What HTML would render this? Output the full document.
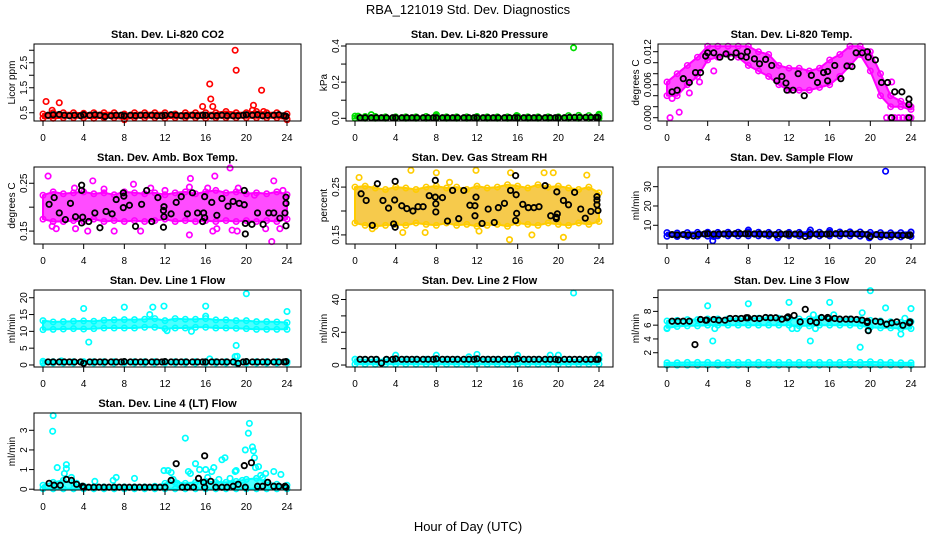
<!DOCTYPE html>
<html><head><meta charset="utf-8"><style>
html,body{margin:0;padding:0;background:#fff;}
svg{display:block;font-family:"Liberation Sans",Arial,sans-serif;}
</style></head><body>
<svg id="chart" width="936" height="540" viewBox="0 0 936 540">
<text x="468" y="14" text-anchor="middle" font-size="13">RBA_121019  Std. Dev. Diagnostics</text>
<text x="468" y="531" text-anchor="middle" font-size="13">Hour of Day (UTC)</text>
</svg>
<script>
// ---------- data ----------
const bandHours=[0,1,2,3,4,5,6,7,8,9,10,11,12,13,14,15,16,17,18,19,20,21,22,23,24];
const blackHours=[0.5,1.0,1.6,2.1,2.6,3.1,3.7,4.0,4.6,5.1,5.6,6.1,6.7,7.2,7.7,8.0,8.6,9.1,9.6,10.1,10.7,11.2,11.7,12.0,12.6,13.1,13.6,14.1,14.7,15.2,15.7,16.0,16.6,17.1,17.6,18.1,18.7,19.2,19.7,20.0,20.6,21.1,21.6,22.1,22.7,23.2,23.7,23.9];

// CO2
const co2Lo=[0.28,0.28,0.3,0.3,0.3,0.28,0.3,0.3,0.25,0.3,0.3,0.3,0.28,0.3,0.3,0.3,0.28,0.3,0.3,0.3,0.3,0.3,0.3,0.3,0.25];
const co2Hi=[0.45,0.5,0.5,0.5,0.48,0.5,0.5,0.5,0.45,0.5,0.5,0.5,0.5,0.45,0.5,0.5,0.5,0.5,0.55,0.5,0.5,0.55,0.5,0.5,0.45];
const co2OutH=[0.3,0.9,1.6,8,15.7,16.4,16.5,16.7,18.9,19.0,20.6,20.7,21.5,21.7,24];
const co2OutV=[0.95,0.6,0.9,0.22,0.75,1.65,1.05,0.75,3.0,2.2,0.6,0.8,1.4,0.55,0.22];
const co2Blk=[0.4,0.42,0.43,0.4,0.38,0.4,0.38,0.42,0.4,0.42,0.4,0.35,0.38,0.4,0.4,0.38,0.4,0.38,0.4,0.4,0.4,0.38,0.38,0.4,0.42,0.4,0.38,0.38,0.4,0.38,0.4,0.4,0.38,0.38,0.4,0.38,0.38,0.38,0.4,0.42,0.4,0.42,0.38,0.4,0.4,0.42,0.38,0.36];

// Pressure
const presLo=[0,0,0,0,0,0,0,0,0,0,0,0,0,0,0,0,0,0,0,0,0,0,0,0,0];
const presHi=[0.012,0.01,0.01,0.008,0.008,0.008,0.008,0.01,0.012,0.008,0.008,0.008,0.01,0.008,0.008,0.008,0.012,0.008,0.008,0.008,0.008,0.015,0.016,0.015,0.015];
const presOutH=[0.3,1.6,8,15.9,21.5,24];
const presOutV=[0.012,0.02,0.02,0.015,0.39,0.022];
const presBlk=[0.003,0.003,0.003,0.003,0.003,0.003,0.003,0.003,0.003,0.003,0.003,0.003,0.003,0.003,0.003,0.003,0.003,0.003,0.003,0.003,0.003,0.003,0.003,0.003,0.003,0.003,0.003,0.003,0.003,0.003,0.003,0.003,0.003,0.003,0.003,0.003,0.003,0.003,0.003,0.003,0.003,0.005,0.005,0.005,0.005,0.005,0.005,0.005];

// Li-820 temperature
const tempLo=[0.004,0.004,0.006,0.0075,0.0105,0.011,0.0115,0.011,0.0095,0.0085,0.0075,0.006,0.005,0.005,0.005,0.0055,0.006,0.0075,0.0095,0.0115,0.0085,0.004,0.002,0.002,0.0015];
const tempHi=[0.0065,0.008,0.0095,0.011,0.013,0.013,0.013,0.013,0.013,0.012,0.0115,0.0095,0.009,0.009,0.0085,0.009,0.0105,0.0115,0.013,0.013,0.012,0.008,0.004,0.003,0.002];
const tempOutH=[0.3,1.2,0.5,2.2,4.6,3.2,21.6,22.0,22.4,22.8,23.2,23.6,24.0,22.1,23.8];
const tempOutV=[0,0.001,0.0035,0.0045,0.0085,0.0065,0,0,0,0,0,0,0,0.0065,0.002];
const tempBlkH=[0.5,1.0,1.6,2.2,2.8,3.3,3.8,4.0,4.6,5.2,5.8,6.3,6.8,7.3,7.8,7.9,8.6,9.1,9.7,10.3,10.8,11.3,11.7,11.8,12.4,12.9,13.5,14.2,14.8,15.4,15.8,15.8,16.5,17.1,17.7,18.2,18.6,19.2,19.7,19.8,20.5,21.1,21.7,22.1,22.4,23.1,23.8,23.8,23.8];
const tempBlkV=[0.0047,0.005,0.0071,0.0064,0.0082,0.0082,0.0112,0.0118,0.0118,0.011,0.0116,0.011,0.0118,0.0112,0.011,0.012,0.0107,0.0098,0.0106,0.0095,0.0067,0.0075,0.0063,0.005,0.005,0.008,0.004,0.0077,0.0064,0.0082,0.0084,0.0067,0.0095,0.0071,0.0094,0.0093,0.0118,0.0118,0.012,0.011,0.0105,0.0064,0.0064,0,0.0047,0.0047,0.0034,0.0024,0];

// Ambient box temperature
const ambLo=[0.175,0.17,0.17,0.172,0.17,0.175,0.17,0.172,0.17,0.172,0.17,0.172,0.175,0.17,0.172,0.17,0.172,0.17,0.172,0.17,0.172,0.17,0.172,0.17,0.175];
const ambHi=[0.225,0.232,0.228,0.23,0.232,0.228,0.23,0.226,0.232,0.23,0.228,0.23,0.226,0.23,0.232,0.228,0.232,0.235,0.23,0.232,0.228,0.23,0.228,0.232,0.226];
const ambOutH=[0.5,4.9,8.9,16.9,18.4,22.7,14.5,22.5,14.4,0.9,1.3,3.2,4.4,7,9.6,17.1,18.6,19.1,21.9,23.3,16.7,3.1,6,10.6,12,14.4,16.2,19.2,20.8,23.6];
const ambOutV=[0.265,0.255,0.248,0.265,0.282,0.255,0.26,0.128,0.142,0.16,0.155,0.155,0.15,0.15,0.15,0.155,0.152,0.15,0.155,0.155,0.15,0.24,0.238,0.24,0.235,0.242,0.24,0.24,0.225,0.235];
const ambBlkH=[0.6,1.1,1.6,2.2,2.7,3.2,3.8,3.8,3.9,3.8,4.5,5.1,5.6,6.2,6.8,7.2,7.9,7.95,7.9,8.5,9.1,9.7,10.2,10.7,11.3,11.85,11.9,11.9,11.85,12.6,13.1,13.6,14.2,14.7,15.2,15.8,15.9,15.9,15.7,16.6,17.1,17.6,18.2,18.7,19.3,19.8,19.8,19.9,19.9,20.55,21.1,21.65,22.2,22.7,23.3,23.8,23.9,23.9,23.9];
const ambBlkV=[0.206,0.22,0.188,0.174,0.208,0.18,0.246,0.235,0.179,0.167,0.17,0.188,0.157,0.191,0.186,0.216,0.23,0.223,0.199,0.204,0.16,0.206,0.235,0.17,0.22,0.193,0.201,0.18,0.158,0.186,0.21,0.222,0.186,0.23,0.188,0.188,0.222,0.178,0.17,0.21,0.183,0.218,0.202,0.212,0.208,0.235,0.205,0.166,0.144,0.164,0.188,0.164,0.188,0.188,0.177,0.188,0.221,0.208,0.161];

// Gas stream RH
const rhLo=[0.175,0.17,0.168,0.17,0.172,0.17,0.175,0.172,0.17,0.175,0.17,0.172,0.168,0.17,0.172,0.168,0.175,0.172,0.17,0.175,0.172,0.17,0.175,0.172,0.178];
const rhHi=[0.25,0.252,0.248,0.245,0.25,0.248,0.245,0.25,0.252,0.248,0.25,0.245,0.252,0.248,0.25,0.255,0.252,0.248,0.255,0.25,0.252,0.248,0.245,0.25,0.238];
const rhOutH=[0.4,5.5,6.9,4.7,11.9,15.2,17.4,20.5,19.5,15.3,18.6,22.8,8,9.3,1.7,12.2];
const rhOutV=[0.27,0.285,0.155,0.155,0.285,0.14,0.15,0.145,0.28,0.28,0.28,0.275,0.28,0.26,0.163,0.158];
const rhBlkH=[0.6,1.1,1.7,2.2,2.75,3.3,3.8,3.95,3.95,3.9,4.6,5.1,5.7,6.2,6.7,7.3,7.9,7.9,7.95,7.95,8.6,9.1,9.6,10.2,10.7,11.3,11.8,11.9,11.8,12.5,13.1,13.7,14.1,14.7,15.3,15.8,15.85,15.9,15.8,16.5,17.05,17.6,18.1,18.7,19.25,19.8,19.9,19.8,19.85,20.5,21.0,21.6,22.2,22.65,23.2,23.8,23.8,23.9,23.8];
const rhBlkV=[0.236,0.222,0.17,0.257,0.222,0.206,0.173,0.166,0.262,0.223,0.211,0.205,0.2,0.209,0.209,0.232,0.264,0.229,0.215,0.198,0.228,0.179,0.243,0.184,0.243,0.212,0.211,0.229,0.19,0.174,0.204,0.176,0.207,0.216,0.243,0.274,0.234,0.195,0.18,0.214,0.207,0.207,0.209,0.253,0.19,0.187,0.194,0.184,0.24,0.222,0.213,0.239,0.204,0.185,0.199,0.23,0.213,0.201,0.223];

// Sample flow
const sfLo=[4.3,4.2,4.3,4.4,4.4,4.5,4.5,4.5,4.5,4.5,4.5,4.4,4.5,4.5,4.5,4.5,4.5,4.5,4.5,4.4,4.2,4.0,4.0,4.0,4.2];
const sfHi=[6.2,6.0,6.2,6.3,6.4,6.3,6.4,6.4,6.5,6.4,6.3,6.3,6.3,6.3,6.4,6.4,6.4,6.5,6.6,6.5,6.3,6.2,6.1,6.2,6.4];
const sfOutH=[4.5,8,14.1,16,21.5,24,10.9,19.9,4.6];
const sfOutV=[2,7.5,7.5,7.3,38,6.5,3.5,3.5,4.2];
const sfBlk=[5.2,5.0,5.2,5.0,4.5,5.3,5.5,5.6,5.4,5.4,5.5,5.5,5.6,5.6,5.6,5.6,5.5,5.5,5.4,5.4,5.2,5.4,5.4,5.4,5.4,5.4,4.2,5.4,5.4,5.4,5.4,5.5,5.6,5.6,5.6,5.6,5.5,5.4,5.2,4.2,5.2,5.0,4.8,5.0,4.8,4.8,4.8,5.0];

// Line 1 flow
const l1Lo=[10.5,10.6,10.7,10.8,10.7,10.8,11,11,11,11,11.2,11.2,10.8,11,11,11.2,11.2,11,11,10.9,10.8,10.6,10.6,10.6,10.6];
const l1Hi=[13.2,12.8,12.9,13.0,13.1,13.0,13.3,13.4,13.5,13.5,13.6,13.8,13.2,13.8,13.6,13.6,13.8,13.4,13.4,13.2,13.2,12.9,12.9,12.8,12.6];
const l1BandLo=[0.6,0.6,0.6,0.6,0.6,0.6,0.6,0.6,0.6,0.6,0.6,0.6,0.6,0.6,0.6,0.6,0.6,0.6,0.6,0.6,0.6,0.6,0.6,0.6,0.6];
const l1BandHi=[1.1,1.0,1.0,1.0,1.0,1.0,1.0,1.0,1.0,1.0,1.0,1.0,1.0,1.0,1.0,1.0,1.0,1.0,1.0,1.0,1.0,1.0,1.0,1.0,1.0];
const l1OutH=[4,4.5,8,10.8,11.9,16,20,24,10.5,19,18.9,19.1,16.4,14.6,12.2,16,1.8];
const l1OutV=[16.8,6.8,17.2,17.2,17.5,17.5,21.2,15.9,15,5.8,2.5,2.6,1.8,10,10.2,14.5,1.2];
const l1Blk=[0.9,0.9,0.9,0.9,0.9,0.9,0.9,0.5,0.9,0.9,0.9,0.9,0.9,0.9,0.9,1.0,0.9,0.9,0.9,0.9,0.9,0.9,0.9,1.0,0.9,0.9,0.9,0.9,0.9,0.9,0.9,0.9,0.9,0.9,0.9,0.9,0.9,0.5,0.9,1.0,0.9,0.9,0.9,0.9,0.9,0.9,0.9,1.0];

// Line 2 flow
const l2Lo=[0.5,0.5,0.5,0.5,0.5,0.5,0.5,0.5,0.5,0.5,0.5,0.5,0.5,0.5,0.5,0.5,0.5,0.5,0.5,0.5,0.5,0.5,0.5,0.5,0.5];
const l2Hi=[3.5,3.2,3.2,3.2,3.5,3.5,3.5,3.5,3.5,3.5,3.5,3.5,3.8,3.5,3.5,3.5,3.8,3.5,3.5,3.5,3.5,3.2,3.2,3.2,3.5];
const l2OutH=[21.5,4,8,12,16,19.2,20,24,0,11.2];
const l2OutV=[44,6,6,6.5,6,6,6,6,3.5,5];
const l2Blk=[3.5,3.5,3.5,3.5,1.2,3.5,3.5,3.8,3.5,3.5,3.5,3.5,3.5,3.5,3.5,3.8,3.5,3.5,3.5,3.5,3.5,3.5,3.5,3.8,3.5,3.5,3.5,3.5,3.5,3.5,3.5,3.8,3.5,3.5,3.5,3.5,3.5,3.5,3.5,3.2,3.5,3.5,3.5,3.5,3.5,3.5,3.5,3.5];

// Line 3 flow
const l3Lo=[5.6,5.8,5.9,5.9,6.0,6.0,6.0,6.0,6.0,6.0,6.0,6.0,6.0,5.9,5.9,6.0,6.0,6.0,6.0,5.9,5.7,5.6,5.6,5.5,5.5];
const l3Hi=[6.6,6.7,6.8,6.8,6.9,6.9,6.9,6.9,7.0,7.0,7.0,7.0,6.9,6.9,6.9,7.0,6.9,6.9,6.9,6.8,6.7,6.6,6.5,6.4,6.5];
const l3BandLo=[0.2,0.2,0.2,0.2,0.2,0.2,0.2,0.2,0.2,0.2,0.2,0.2,0.2,0.2,0.2,0.2,0.2,0.2,0.2,0.2,0.2,0.2,0.2,0.2,0.2];
const l3BandHi=[0.55,0.55,0.6,0.6,0.6,0.55,0.6,0.6,0.6,0.6,0.6,0.6,0.6,0.6,0.6,0.6,0.6,0.6,0.7,0.6,0.7,0.6,0.6,0.55,0.55];
const l3OutH=[4,4.5,8,12,16,20,24,21.5,19,19.2,14.1,14.4,12.3,12.8,16.4,23,19.8,4.7,0,14.6,23.4];
const l3OutV=[8.8,3.7,9.1,9.3,9.3,11,8.4,8.5,2.8,7.8,3.7,7.5,5.5,5.5,7.5,4.7,5.3,5.5,5.5,5.5,7];
const l3BlkH=[0.5,1.07,1.6,2.2,2.75,3.3,3.8,3.9,4.6,5.1,5.7,6.2,6.75,7.3,7.8,7.95,8.6,9.1,9.7,10.2,10.7,11.3,11.8,11.9,12.5,13.1,13.6,14.1,14.7,15.2,15.8,15.9,16.5,17,17.6,18.1,18.65,19.2,19.7,19.8,19.7,20.5,21,21.6,22.1,22.6,23.2,23.85,23.9];
const l3BlkV=[6.57,6.57,6.57,6.57,3.18,6.82,6.72,6.72,6.82,6.72,6.72,6.97,6.97,6.97,7.07,7.07,6.97,6.97,7.11,7.07,7.07,6.87,7.07,7.2,7.41,6.48,8.3,6.57,6.38,7.11,7.11,6.97,6.97,6.87,6.87,6.87,6.82,6.72,6.38,5.2,6.57,6.57,6.48,6.13,6.33,6.48,5.98,6.33,6.48];

// Line 4 (LT) flow
const l4Lo=[0.02,0.02,0.02,0.02,0.02,0.02,0.02,0.02,0.02,0.02,0.02,0.02,0.02,0.02,0.02,0.02,0.02,0.02,0.02,0.02,0.02,0.02,0.02,0.02,0.02];
const l4Hi=[0.2,0.35,0.45,0.3,0.15,0.12,0.12,0.12,0.12,0.12,0.12,0.15,0.3,0.35,0.3,0.35,0.4,0.35,0.35,0.4,0.5,0.55,0.35,0.25,0.2];
const l4OutH=[1.0,0.95,1.4,2.3,2.3,2.1,2.8,5.1,6.9,7.2,9,11.9,12.3,12.6,14,14.3,14.5,15,15.4,16,16.2,16.6,16.8,17.3,17.6,17.9,18.4,18.9,19,19.6,19.9,20.2,20.3,20.6,20.7,20.8,20.9,21.2,21.4,21.6,21.9,22.7,23.4,13.2,12.8,3.3,3.8];
const l4OutV=[3.75,2.95,1.1,1.25,1.05,0.8,0.6,0.4,0.45,0.6,0.55,0.95,0.95,0.85,2.6,0.9,0.8,1.3,1.0,1.0,0.6,0.9,1.1,0.5,1.5,1.6,0.55,0.9,0.95,0.45,2.0,2.85,3.35,2.15,1.95,1.6,1.1,1.15,0.7,0.6,0.8,0.9,0.75,0.3,0.5,0.3,0.15];
const l4BlkH=[0.6,1.1,1.7,2.3,2.8,3.3,3.9,4.0,4.5,5.0,5.5,6.0,6.5,7.0,7.5,8.0,8.5,9.0,9.5,10.0,10.5,11.0,11.5,12.0,12.6,13.1,13.7,14.2,14.8,15.3,15.8,15.9,15.9,16.5,17,17.6,18.1,18.7,19.2,19.8,19.9,20.5,21.1,21.6,22.1,22.7,23.2,23.8,23.9];
const l4BlkV=[0.3,0.2,0.2,0.5,0.45,0.25,0.15,0.1,0.1,0.1,0.1,0.1,0.1,0.1,0.1,0.1,0.1,0.1,0.1,0.1,0.1,0.1,0.1,0.1,0.45,1.3,0.1,0.1,0.1,0.55,0.35,1.7,0.1,0.4,0.1,0.1,0.1,0.15,0.25,1.2,0.1,1.35,0.15,0.15,0.35,0.15,0.15,0.15,0.1];

// ---------- drawing ----------
const NS="http://www.w3.org/2000/svg";
const svg=document.getElementById('chart');
const COLX=[0,312,624], ROWY=[44,167,290,413];
const BOXW=267, BOXH=77, BOXL=34, H0=43, HPX=244/24;
const xTicks=[0,4,8,12,16,20,24];

function mk(tag,attrs,parent){const e=document.createElementNS(NS,tag);for(const k in attrs)e.setAttribute(k,attrs[k]);(parent||svg).appendChild(e);return e;}

function panel(p){
  const g=mk('g',{});
  
  
  const left=BOXL+COLX[p.col], top=ROWY[p.row], bottom=top+BOXH;
  const xs=h=>H0+COLX[p.col]+h*HPX;
  const ys=v=>top+(p.ymax-v)/(p.ymax-p.ymin)*BOXH;
  (p.bands||[]).forEach(b=>{
    let pts=bandHours.map((h,i)=>xs(h).toFixed(1)+','+ys(b.hi[i]).toFixed(1));
    for(let i=bandHours.length-1;i>=0;i--)pts.push(xs(bandHours[i]).toFixed(1)+','+ys(b.lo[i]).toFixed(1));
    const poly=mk('polygon',{points:pts.join(' '),fill:p.fill,'fill-opacity':0.7,stroke:p.color,'stroke-width':2,'stroke-linejoin':'round'},g);
    
    
    bandHours.forEach((h,i)=>{
      [b.hi[i],b.lo[i]].forEach(v=>{
        const c=mk('circle',{cx:xs(h),cy:ys(v),r:2.7,fill:'none',stroke:p.color,'stroke-width':1.6},g);
        
        
      });
    });
  });
  p.outH.forEach((h,i)=>{
    const c=mk('circle',{cx:xs(h),cy:ys(p.outV[i]),r:2.7,fill:'none',stroke:p.color,'stroke-width':1.7},g);
    
    
  });
  p.blkH.forEach((h,i)=>{
    const c=mk('circle',{cx:xs(h),cy:ys(p.blkV[i]),r:2.7,fill:'none',stroke:'#000','stroke-width':1.8},g);
    
    
  });
  const box=mk('rect',{x:left,y:top,width:BOXW,height:BOXH,fill:'none',stroke:'#000','stroke-width':1},g);
  
  
  xTicks.forEach(t=>{
    const x=xs(t);
    mk('line',{x1:x,y1:bottom,x2:x,y2:bottom+5,stroke:'#000'},g);
    const tx=mk('text',{x:x,y:bottom+20,'text-anchor':'middle','font-size':10},g);
    tx.textContent=t;
    
    
  });
  p.ticks.forEach((t,i)=>{
    const y=ys(t);
    mk('line',{x1:left,y1:y,x2:left-5,y2:y,stroke:'#000'},g);
    if(p.labels[i]!==''){
      const tx=mk('text',{x:0,y:0,'text-anchor':'middle','font-size':10,transform:`translate(${left-7},${y}) rotate(-90)`},g);
      tx.textContent=p.labels[i];
      
      
    }
  });
  const yt=mk('text',{x:0,y:0,'text-anchor':'middle','font-size':10,transform:`translate(${left-19},${top+BOXH/2}) rotate(-90)`},g);
  yt.textContent=p.ylab;
  
  
  const tt=mk('text',{x:left+BOXW/2,y:top-6,'text-anchor':'middle','font-size':11,'font-weight':'bold'},g);
  tt.textContent=p.title;
  
  
}

panel({name:'panel-co2',col:0,row:0,title:'Stan. Dev. Li-820 CO2',ylab:'Licor ppm',ymin:0.17,ymax:3.25,ticks:[0.5,1,1.5,2,2.5,3],labels:['0.5','','1.5','','2.5',''],color:'#ff0000',fill:'#ff0000',bands:[{lo:co2Lo,hi:co2Hi}],outH:co2OutH,outV:co2OutV,blkH:blackHours,blkV:co2Blk});
panel({name:'panel-pressure',col:1,row:0,title:'Stan. Dev. Li-820 Pressure',ylab:'kPa',ymin:-0.015,ymax:0.411,ticks:[0,0.1,0.2,0.3,0.4],labels:['0.0','','0.2','','0.4'],color:'#00dd00',fill:'#00dd00',bands:[{lo:presLo,hi:presHi}],outH:presOutH,outV:presOutV,blkH:blackHours,blkV:presBlk});
panel({name:'panel-li820-temp',col:2,row:0,title:'Stan. Dev. Li-820 Temp.',ylab:'degrees C',ymin:-0.0006,ymax:0.0134,ticks:[0,0.002,0.004,0.006,0.008,0.01,0.012],labels:['0.000','','','0.006','','','0.012'],color:'#ff00ff',fill:'#ff00ff',bands:[{lo:tempLo,hi:tempHi}],outH:tempOutH,outV:tempOutV,blkH:tempBlkH,blkV:tempBlkV});
panel({name:'panel-amb-box-temp',col:0,row:1,title:'Stan. Dev. Amb. Box Temp.',ylab:'degrees C',ymin:0.123,ymax:0.284,ticks:[0.15,0.2,0.25],labels:['0.15','','0.25'],color:'#ff00ff',fill:'#ff00ff',bands:[{lo:ambLo,hi:ambHi}],outH:ambOutH,outV:ambOutV,blkH:ambBlkH,blkV:ambBlkV});
panel({name:'panel-gas-rh',col:1,row:1,title:'Stan. Dev. Gas Stream RH',ylab:'percent',ymin:0.131,ymax:0.292,ticks:[0.15,0.2,0.25],labels:['0.15','','0.25'],color:'#ffcc00',fill:'#f2b400',bands:[{lo:rhLo,hi:rhHi}],outH:rhOutH,outV:rhOutV,blkH:rhBlkH,blkV:rhBlkV});
panel({name:'panel-sample-flow',col:2,row:1,title:'Stan. Dev. Sample Flow',ylab:'ml/min',ymin:0.3,ymax:40.2,ticks:[10,20,30],labels:['10','20','30'],color:'#0000ff',fill:'#0000ff',bands:[{lo:sfLo,hi:sfHi}],outH:sfOutH,outV:sfOutV,blkH:blackHours,blkV:sfBlk});
panel({name:'panel-line1-flow',col:0,row:2,title:'Stan. Dev. Line 1 Flow',ylab:'ml/min',ymin:-0.6,ymax:22.3,ticks:[0,5,10,15,20],labels:['0','5','10','15','20'],color:'#00ffff',fill:'#00ffff',bands:[{lo:l1Lo,hi:l1Hi},{lo:l1BandLo,hi:l1BandHi}],outH:l1OutH,outV:l1OutV,blkH:blackHours,blkV:l1Blk});
panel({name:'panel-line2-flow',col:1,row:2,title:'Stan. Dev. Line 2 Flow',ylab:'ml/min',ymin:-1.2,ymax:45.8,ticks:[0,10,20,30,40],labels:['0','','20','','40'],color:'#00ffff',fill:'#00ffff',bands:[{lo:l2Lo,hi:l2Hi}],outH:l2OutH,outV:l2OutV,blkH:blackHours,blkV:l2Blk});
panel({name:'panel-line3-flow',col:2,row:2,title:'Stan. Dev. Line 3 Flow',ylab:'ml/min',ymin:-0.07,ymax:11.1,ticks:[2,4,6,8,10],labels:['2','4','6','8',''],color:'#00ffff',fill:'#00ffff',bands:[{lo:l3Lo,hi:l3Hi},{lo:l3BandLo,hi:l3BandHi}],outH:l3OutH,outV:l3OutV,blkH:l3BlkH,blkV:l3BlkV});
panel({name:'panel-line4-flow',col:0,row:3,title:'Stan. Dev. Line 4 (LT) Flow',ylab:'ml/min',ymin:-0.04,ymax:3.88,ticks:[0,1,2,3],labels:['0','1','2','3'],color:'#00ffff',fill:'#00ffff',bands:[{lo:l4Lo,hi:l4Hi}],outH:l4OutH,outV:l4OutV,blkH:l4BlkH,blkV:l4BlkV});
</script>
</body></html>
